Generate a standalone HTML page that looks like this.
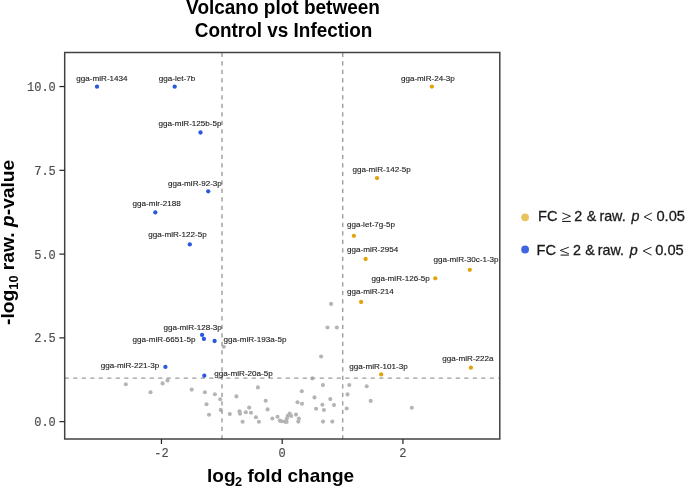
<!DOCTYPE html>
<html><head><meta charset="utf-8"><style>
html,body{margin:0;padding:0;background:#fff;width:685px;height:487px;overflow:hidden;position:relative;font-family:"Liberation Sans",sans-serif;}
</style></head><body>
<svg width="685" height="487" viewBox="0 0 685 487" style="position:absolute;left:0;top:0;will-change:transform">
<rect width="685" height="487" fill="#fff"/>
<circle cx="223.8" cy="346.7" r="2.05" fill="#B4B4B4"/>
<circle cx="331.1" cy="303.9" r="2.05" fill="#B4B4B4"/>
<circle cx="327.5" cy="327.5" r="2.05" fill="#B4B4B4"/>
<circle cx="336.9" cy="327.5" r="2.05" fill="#B4B4B4"/>
<circle cx="321.1" cy="356.5" r="2.05" fill="#B4B4B4"/>
<circle cx="312.3" cy="378.4" r="2.05" fill="#B4B4B4"/>
<circle cx="125.8" cy="384.2" r="2.05" fill="#B4B4B4"/>
<circle cx="150.5" cy="392.2" r="2.05" fill="#B4B4B4"/>
<circle cx="162.6" cy="383.4" r="2.05" fill="#B4B4B4"/>
<circle cx="167.5" cy="380.4" r="2.05" fill="#B4B4B4"/>
<circle cx="191.7" cy="389.6" r="2.05" fill="#B4B4B4"/>
<circle cx="204.9" cy="392.2" r="2.05" fill="#B4B4B4"/>
<circle cx="214.9" cy="394.3" r="2.05" fill="#B4B4B4"/>
<circle cx="220.2" cy="399.3" r="2.05" fill="#B4B4B4"/>
<circle cx="236.4" cy="396.4" r="2.05" fill="#B4B4B4"/>
<circle cx="206.5" cy="404.2" r="2.05" fill="#B4B4B4"/>
<circle cx="220.7" cy="409.9" r="2.05" fill="#B4B4B4"/>
<circle cx="209.0" cy="414.8" r="2.05" fill="#B4B4B4"/>
<circle cx="229.8" cy="414.1" r="2.05" fill="#B4B4B4"/>
<circle cx="239.5" cy="411.2" r="2.05" fill="#B4B4B4"/>
<circle cx="240.0" cy="413.8" r="2.05" fill="#B4B4B4"/>
<circle cx="257.9" cy="387.4" r="2.05" fill="#B4B4B4"/>
<circle cx="265.7" cy="400.8" r="2.05" fill="#B4B4B4"/>
<circle cx="267.6" cy="409.4" r="2.05" fill="#B4B4B4"/>
<circle cx="249.2" cy="407.6" r="2.05" fill="#B4B4B4"/>
<circle cx="245.8" cy="412.2" r="2.05" fill="#B4B4B4"/>
<circle cx="251.0" cy="412.8" r="2.05" fill="#B4B4B4"/>
<circle cx="255.9" cy="417.3" r="2.05" fill="#B4B4B4"/>
<circle cx="242.6" cy="421.7" r="2.05" fill="#B4B4B4"/>
<circle cx="258.9" cy="421.7" r="2.05" fill="#B4B4B4"/>
<circle cx="272.4" cy="418.5" r="2.05" fill="#B4B4B4"/>
<circle cx="277.5" cy="416.7" r="2.05" fill="#B4B4B4"/>
<circle cx="279.8" cy="420.6" r="2.05" fill="#B4B4B4"/>
<circle cx="281.3" cy="421.3" r="2.05" fill="#B4B4B4"/>
<circle cx="284.7" cy="421.6" r="2.05" fill="#B4B4B4"/>
<circle cx="286.6" cy="421.9" r="2.05" fill="#B4B4B4"/>
<circle cx="286.9" cy="418.5" r="2.05" fill="#B4B4B4"/>
<circle cx="287.8" cy="415.7" r="2.05" fill="#B4B4B4"/>
<circle cx="289.7" cy="413.6" r="2.05" fill="#B4B4B4"/>
<circle cx="291.2" cy="416.0" r="2.05" fill="#B4B4B4"/>
<circle cx="296.0" cy="414.6" r="2.05" fill="#B4B4B4"/>
<circle cx="298.9" cy="418.5" r="2.05" fill="#B4B4B4"/>
<circle cx="298.3" cy="421.6" r="2.05" fill="#B4B4B4"/>
<circle cx="297.5" cy="402.2" r="2.05" fill="#B4B4B4"/>
<circle cx="302.0" cy="403.7" r="2.05" fill="#B4B4B4"/>
<circle cx="322.9" cy="385.1" r="2.05" fill="#B4B4B4"/>
<circle cx="301.8" cy="391.3" r="2.05" fill="#B4B4B4"/>
<circle cx="314.5" cy="397.4" r="2.05" fill="#B4B4B4"/>
<circle cx="330.3" cy="399.1" r="2.05" fill="#B4B4B4"/>
<circle cx="322.4" cy="404.8" r="2.05" fill="#B4B4B4"/>
<circle cx="334.0" cy="405.1" r="2.05" fill="#B4B4B4"/>
<circle cx="316.1" cy="408.8" r="2.05" fill="#B4B4B4"/>
<circle cx="323.9" cy="410.0" r="2.05" fill="#B4B4B4"/>
<circle cx="323.0" cy="421.6" r="2.05" fill="#B4B4B4"/>
<circle cx="332.3" cy="421.6" r="2.05" fill="#B4B4B4"/>
<circle cx="349.3" cy="385.0" r="2.05" fill="#B4B4B4"/>
<circle cx="347.5" cy="394.4" r="2.05" fill="#B4B4B4"/>
<circle cx="346.7" cy="408.5" r="2.05" fill="#B4B4B4"/>
<circle cx="366.7" cy="386.3" r="2.05" fill="#B4B4B4"/>
<circle cx="370.7" cy="400.9" r="2.05" fill="#B4B4B4"/>
<circle cx="411.8" cy="407.8" r="2.05" fill="#B4B4B4"/>
<line x1="64.7" y1="378.1" x2="499.8" y2="378.1" stroke="#9c9c9c" stroke-width="1.4" stroke-dasharray="4.25 4.25"/>
<line x1="222.0" y1="439.5" x2="222.0" y2="52.5" stroke="#9c9c9c" stroke-width="1.4" stroke-dasharray="4.25 4.25"/>
<line x1="342.7" y1="439.5" x2="342.7" y2="52.5" stroke="#9c9c9c" stroke-width="1.4" stroke-dasharray="4.25 4.25"/>
<circle cx="97.0" cy="86.7" r="2.15" fill="#2957DE"/>
<circle cx="174.7" cy="86.7" r="2.15" fill="#2957DE"/>
<circle cx="200.5" cy="132.5" r="2.15" fill="#2957DE"/>
<circle cx="208.2" cy="191.3" r="2.15" fill="#2957DE"/>
<circle cx="155.3" cy="212.4" r="2.15" fill="#2957DE"/>
<circle cx="189.8" cy="244.4" r="2.15" fill="#2957DE"/>
<circle cx="202.1" cy="334.9" r="2.15" fill="#2957DE"/>
<circle cx="203.9" cy="338.9" r="2.15" fill="#2957DE"/>
<circle cx="214.6" cy="341.0" r="2.15" fill="#2957DE"/>
<circle cx="165.4" cy="366.9" r="2.15" fill="#2957DE"/>
<circle cx="204.3" cy="375.7" r="2.15" fill="#2957DE"/>
<circle cx="431.9" cy="86.6" r="2.15" fill="#E2A30B"/>
<circle cx="377.0" cy="178.1" r="2.15" fill="#E2A30B"/>
<circle cx="353.9" cy="235.8" r="2.15" fill="#E2A30B"/>
<circle cx="365.6" cy="259.0" r="2.15" fill="#E2A30B"/>
<circle cx="469.8" cy="269.8" r="2.15" fill="#E2A30B"/>
<circle cx="435.3" cy="278.3" r="2.15" fill="#E2A30B"/>
<circle cx="361.1" cy="302.0" r="2.15" fill="#E2A30B"/>
<circle cx="381.2" cy="374.4" r="2.15" fill="#E2A30B"/>
<circle cx="470.9" cy="367.7" r="2.15" fill="#E2A30B"/>
<g font-family="Liberation Sans" font-size="7.8" fill="#1a1a1a" stroke="#1a1a1a" stroke-width="0.12">
<text transform="translate(76.30,81.10) scale(1.04,1)">gga-miR-1434</text>
<text transform="translate(158.80,81.10) scale(1.04,1)">gga-let-7b</text>
<text transform="translate(158.60,125.90) scale(1.04,1)">gga-miR-125b-5p</text>
<text transform="translate(167.90,185.65) scale(1.04,1)">gga-miR-92-3p</text>
<text transform="translate(132.60,205.90) scale(1.04,1)">gga-mir-2188</text>
<text transform="translate(148.20,237.40) scale(1.04,1)">gga-miR-122-5p</text>
<text transform="translate(163.40,329.90) scale(1.04,1)">gga-miR-128-3p</text>
<text transform="translate(132.60,341.90) scale(1.04,1)">gga-miR-6651-5p</text>
<text transform="translate(223.50,342.10) scale(1.04,1)">gga-miR-193a-5p</text>
<text transform="translate(100.70,367.90) scale(1.04,1)">gga-miR-221-3p</text>
<text transform="translate(214.30,375.65) scale(1.04,1)">gga-miR-20a-5p</text>
<text transform="translate(400.90,81.10) scale(1.04,1)">gga-miR-24-3p</text>
<text transform="translate(352.40,171.65) scale(1.04,1)">gga-miR-142-5p</text>
<text transform="translate(346.90,226.90) scale(1.04,1)">gga-let-7g-5p</text>
<text transform="translate(347.00,251.65) scale(1.04,1)">gga-miR-2954</text>
<text transform="translate(433.40,261.75) scale(1.04,1)">gga-miR-30c-1-3p</text>
<text transform="translate(371.40,280.65) scale(1.04,1)">gga-miR-126-5p</text>
<text transform="translate(347.00,293.65) scale(1.04,1)">gga-miR-214</text>
<text transform="translate(349.30,368.80) scale(1.04,1)">gga-miR-101-3p</text>
<text transform="translate(442.30,361.35) scale(1.04,1)">gga-miR-222a</text>
</g>
<rect x="64.7" y="52.5" width="435.1" height="386.5" fill="none" stroke="#424242" stroke-width="1.5"/>
<line x1="59.4" y1="421.65" x2="64.7" y2="421.65" stroke="#222" stroke-width="1.2"/>
<line x1="59.4" y1="337.88" x2="64.7" y2="337.88" stroke="#222" stroke-width="1.2"/>
<line x1="59.4" y1="254.10" x2="64.7" y2="254.10" stroke="#222" stroke-width="1.2"/>
<line x1="59.4" y1="170.32" x2="64.7" y2="170.32" stroke="#222" stroke-width="1.2"/>
<line x1="59.4" y1="86.55" x2="64.7" y2="86.55" stroke="#222" stroke-width="1.2"/>
<line x1="161.46" y1="439.0" x2="161.46" y2="444" stroke="#222" stroke-width="1.2"/>
<line x1="282.20" y1="439.0" x2="282.20" y2="444" stroke="#222" stroke-width="1.2"/>
<line x1="402.94" y1="439.0" x2="402.94" y2="444" stroke="#222" stroke-width="1.2"/>
<g font-family="Liberation Mono" font-size="12" fill="#4d4d4d" stroke="#4d4d4d" stroke-width="0.15">
<text x="55.8" y="426.10" text-anchor="end">0.0</text>
<text x="55.8" y="342.32" text-anchor="end">2.5</text>
<text x="55.8" y="258.55" text-anchor="end">5.0</text>
<text x="55.8" y="174.77" text-anchor="end">7.5</text>
<text x="55.8" y="91.00" text-anchor="end">10.0</text>
<text x="161.46" y="456.6" text-anchor="middle">-2</text>
<text x="282.20" y="456.6" text-anchor="middle">0</text>
<text x="402.94" y="456.6" text-anchor="middle">2</text>
</g>
<g font-family="Liberation Sans" font-weight="bold" font-size="19" fill="#000" text-anchor="middle">
<text transform="translate(283.0,13.7) scale(1,1.05)">Volcano plot between</text>
<text transform="translate(283.6,36.6) scale(0.996,1.05)">Control vs Infection</text>
</g>
<text transform="translate(207,481.6) scale(1,1)" font-family="Liberation Sans" font-weight="bold" font-size="19" fill="#000">log<tspan font-size="12.7" dy="4.2" dx="-0.4">2</tspan><tspan dy="-4.2"> fold change</tspan></text>
<text transform="translate(14.3,325) rotate(-90) scale(1.012,1)" x="0" y="0" font-family="Liberation Sans" font-weight="bold" font-size="19" fill="#000">-log<tspan font-size="12.7" dy="4">10</tspan><tspan dy="-4"> raw. </tspan><tspan font-style="italic">p</tspan>-value</text>
<circle cx="525.1" cy="217.3" r="3.9" fill="#E8C35F"/>
<circle cx="525.1" cy="249.5" r="3.9" fill="#3F66E0"/>
<g font-family="Liberation Sans" font-size="14.3" fill="#1a1a1a" stroke="#1a1a1a" stroke-width="0.3">
<text x="538.1" y="220.8" font-size="14.6">FC</text>
<text x="574.2" y="220.8">2</text>
<text x="586.8" y="220.8">&amp;</text>
<text x="599.4" y="220.8">raw.</text>
<text x="631.5" y="220.8" font-style="italic">p</text>
<text x="656.4" y="220.8" font-size="14.7">0.05</text>
<text x="536.6" y="254.7" font-size="14.6">FC</text>
<text x="573.0" y="254.7">2</text>
<text x="585.3" y="254.7">&amp;</text>
<text x="597.7" y="254.7">raw.</text>
<text x="629.7" y="254.7" font-style="italic">p</text>
<text x="655.2" y="254.7" font-size="14.7">0.05</text>
</g>
<g fill="none" stroke="#222" stroke-width="1.0" stroke-linecap="butt" stroke-linejoin="miter">
<path d="M562.3 212.9 L570.4 216.2 L562.3 219.5"/><path d="M562.1 221.45 H570.8" stroke-width="1.1"/>
<path d="M568.8 247.2 L560.3 250.4 L568.8 253.7"/><path d="M560.6 255.1 H568.9" stroke-width="1.1"/>
<path d="M651.8 213.0 L644.2 216.9 L651.9 220.6"/>
<path d="M651.5 247.2 L643.2 250.9 L651.5 255.1"/>
</g>
</svg>
</body></html>
